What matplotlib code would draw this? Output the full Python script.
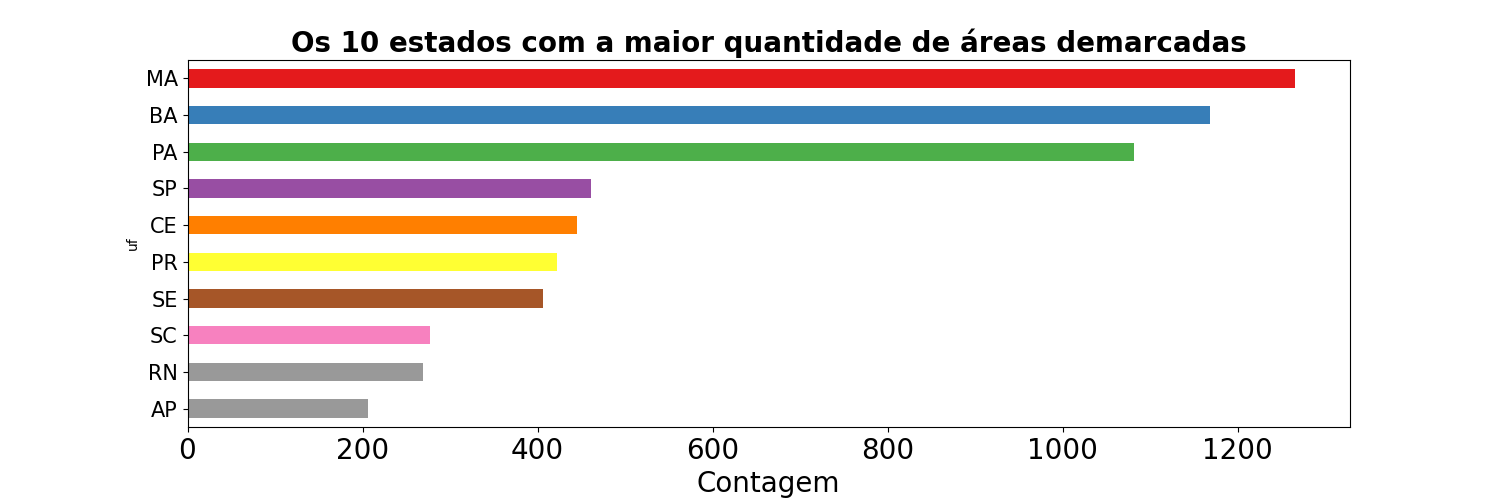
import matplotlib
matplotlib.use('Agg')
import matplotlib.pyplot as plt

ufs = ['MA', 'BA', 'PA', 'SP', 'CE', 'PR', 'SE', 'SC', 'RN', 'AP']
contagem = [1265, 1168, 1082, 461, 445, 422, 406, 277, 269, 206]
cores = ['#e41a1c', '#377eb8', '#4daf4a', '#984ea3', '#ff7f00',
         '#ffff33', '#a65628', '#f781bf', '#999999', '#999999']

fig, ax = plt.subplots(figsize=(15, 5), dpi=100)
fig.subplots_adjust(left=0.125, right=0.9, top=0.88, bottom=0.146)

pos = range(len(ufs))
ax.barh(pos, contagem, height=0.5, color=cores)
ax.set_yticks(list(pos))
ax.set_yticklabels(ufs, fontsize=15)
# biggest state on top, no extra vertical padding (like pandas barh)
ax.set_ylim(len(ufs) - 0.5, -0.5)
ax.set_ylabel('uf', fontsize=10)
ax.set_xlabel('Contagem', fontsize=20)
ax.tick_params(axis='x', labelsize=20)
ax.set_title('Os 10 estados com a maior quantidade de áreas demarcadas',
             fontsize=20, fontweight='bold')

plt.savefig('out.png')
